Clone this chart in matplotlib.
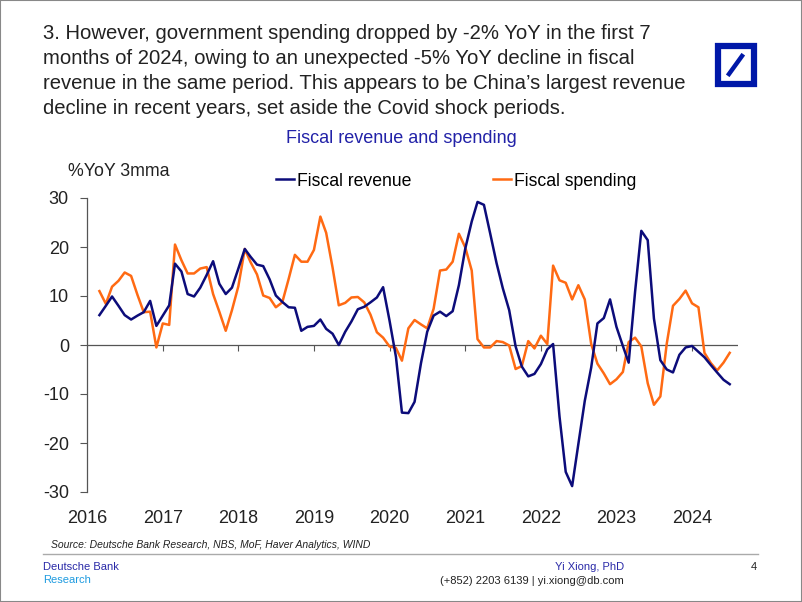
import pandas as pd
import matplotlib.pyplot as plt
import matplotlib.patches as mpatches
from matplotlib.lines import Line2D

# monthly, 3mma %YoY, Mar 2016 - Jul 2024
dates = pd.date_range('2016-03-01', '2024-07-01', freq='MS')

revenue = [6.1, 8.0, 9.9, 8.0, 6.1, 5.2, 6.0, 6.7, 9.0, 3.9,
           6.0, 8.1, 16.6, 15.0, 10.4, 9.9, 11.7, 14.3, 17.1, 12.5,
           10.4, 11.7, 15.6, 19.6, 18.0, 16.4, 16.1, 13.4, 10.1, 8.8,
           7.7, 7.6, 2.9, 3.7, 3.9, 5.2, 3.3, 2.3, 0.0, 2.7,
           4.8, 7.3, 7.8, 8.7, 9.7, 11.8, 5.0, -2.4, -13.8, -13.9,
           -11.6, -3.7, 2.7, 6.0, 6.8, 5.9, 6.9, 12.2, 19.7, 25.2,
           29.2, 28.6, 22.8, 16.7, 11.6, 7.1, -0.3, -4.4, -6.4, -5.9,
           -3.9, -0.9, 0.2, -14.6, -25.9, -28.8, -20.2, -11.4, -4.6, 4.4,
           5.5, 9.3, 3.7, -0.2, -3.6, 10.9, 23.3, 21.4, 5.4, -3.1,
           -5.0, -5.6, -2.0, -0.5, -0.2, -1.4, -2.5, -4.1, -5.6, -7.1,
           -8.0]

spending = [11.0, 8.4, 11.9, 13.1, 14.8, 14.1, 10.2, 6.7, 6.8, -0.5,
            4.4, 4.1, 20.5, 17.3, 14.6, 14.6, 15.6, 15.9, 10.4, 6.8,
            2.9, 7.1, 12.0, 19.6, 16.9, 14.4, 10.1, 9.6, 7.7, 8.7,
            13.5, 18.4, 17.0, 17.0, 19.4, 26.2, 22.9, 15.8, 8.1, 8.6,
            9.7, 9.8, 8.7, 6.2, 2.6, 1.5, -0.3, -0.6, -3.2, 3.4,
            5.1, 4.2, 3.4, 7.4, 15.2, 15.4, 17.0, 22.7, 19.9, 15.2,
            1.2, -0.5, -0.5, 0.8, 0.6, -0.1, -4.9, -4.3, 0.8, -0.7,
            1.9, 0.2, 16.2, 13.2, 12.7, 9.3, 12.2, 9.3, 0.2, -3.8,
            -5.8, -8.0, -7.0, -5.5, 0.6, 1.5, -0.3, -7.8, -12.2, -10.5,
            0.3, 8.0, 9.4, 11.1, 8.5, 7.7, -1.6, -3.7, -5.2, -3.6,
            -1.6]

years = list(range(2016, 2025))
yticks = [-30, -20, -10, 0, 10, 20, 30]

title = ("3. However, government spending dropped by -2% YoY in the first 7\n"
         "months of 2024, owing to an unexpected -5% YoY decline in fiscal\n"
         "revenue in the same period. This appears to be China\u2019s largest revenue\n"
         "decline in recent years, set aside the Covid shock periods.")

NAVY = '#0c0c7a'
ORANGE = '#ff6a13'
DBBLUE = '#0018a8'
TXT = '#222222'
AXC = '#555555'
BODY = 'Liberation Sans'
plt.rcParams['font.family'] = [BODY, 'DejaVu Sans']

fig = plt.figure(figsize=(8.02, 6.02), dpi=100)
fig.patches.append(mpatches.Rectangle((0, 0), 1, 1, transform=fig.transFigure,
                                      fill=False, edgecolor='#888888', linewidth=1.5))

# header
fig.text(43 / 802, 1 - 24 / 602, title, ha='left', va='top', fontsize=14.6,
         color=TXT, linespacing=1.40)

# logo
fig.patches.append(mpatches.Rectangle((718 / 802, 1 - 84 / 602), 36 / 802, 38 / 602,
                                      transform=fig.transFigure, fill=False,
                                      edgecolor=DBBLUE, linewidth=4.5))
fig.lines.append(Line2D([729 / 802, 742 / 802], [1 - 74 / 602, 1 - 56 / 602],
                        transform=fig.transFigure, color=DBBLUE, linewidth=3.2))

fig.text(401 / 802, 1 - 138 / 602, 'Fiscal revenue and spending', ha='center',
         va='center', fontsize=13, color='#2222a8')

ax = fig.add_axes([87 / 802, 1 - 492 / 602, (738 - 87) / 802, (492 - 198) / 602])
ax.axhline(0, color=AXC, linewidth=0.9, zorder=1)
ax.plot(dates, revenue, color=NAVY, linewidth=1.8, label='Fiscal revenue', zorder=3)
ax.plot(dates, spending, color=ORANGE, linewidth=1.8, label='Fiscal spending', zorder=2)

ax.set_ylim(-30, 30)
ax.set_xlim(pd.Timestamp('2016-01-01'), pd.Timestamp('2024-08-10'))
ax.set_yticks(yticks)
ax.set_yticklabels([str(v) for v in yticks])
ax.tick_params(axis='y', direction='out', length=5, width=0.8, color=AXC,
               labelsize=13, labelcolor=TXT, pad=8)

year_pos = [pd.Timestamp(f'{y}-01-01') for y in years]
ax.set_xticks(year_pos[1:])
ax.tick_params(axis='x', direction='out', length=4, width=0.8, color=AXC,
               labelbottom=False)

for s in ['top', 'right', 'bottom']:
    ax.spines[s].set_visible(False)
ax.spines['left'].set_color(AXC)
ax.spines['left'].set_linewidth(0.9)
ax.spines['bottom'].set_position(('data', 0))

# year labels below the plot
lab = ax.secondary_xaxis('bottom')
lab.set_xticks(year_pos)
lab.set_xticklabels([str(y) for y in years])
lab.tick_params(axis='x', length=0, labelsize=13, labelcolor=TXT, pad=13)
lab.spines['bottom'].set_visible(False)

ax.text((68 - 87) / (738 - 87), 1.09, '%YoY 3mma', transform=ax.transAxes,
        ha='left', va='center', fontsize=12.8, color=TXT)

handles, labels = ax.get_legend_handles_labels()
fig.legend(handles, labels, loc='center', bbox_to_anchor=(456 / 802, 1 - 181 / 602),
           ncol=2, frameon=False, handlelength=1.05, handletextpad=0.15,
           columnspacing=4.6, prop={'family': BODY, 'size': 12.7})

# footer
fig.text(51 / 802, 1 - 545 / 602,
         'Source: Deutsche Bank Research, NBS, MoF, Haver Analytics, WIND',
         ha='left', va='center', fontsize=7.5, style='italic', color=TXT)
fig.lines.append(Line2D([43 / 802, 758 / 802], [1 - 554 / 602, 1 - 554 / 602],
                        transform=fig.transFigure, color='#aaaaaa', linewidth=1))
fig.text(43 / 802, 1 - 567 / 602, 'Deutsche Bank', ha='left', va='center',
         fontsize=8, color='#2a2aa8')
fig.text(43 / 802, 1 - 580 / 602, 'Research', ha='left', va='center',
         fontsize=8, color='#1e9be0')
fig.text(624 / 802, 1 - 567 / 602, 'Yi Xiong, PhD', ha='right', va='center',
         fontsize=8, color='#2a2aa8')
fig.text(624 / 802, 1 - 581 / 602, '(+852) 2203 6139 | yi.xiong@db.com', ha='right',
         va='center', fontsize=8, color=TXT)
fig.text(757 / 802, 1 - 567 / 602, '4', ha='right', va='center', fontsize=8,
         color=TXT)

fig.savefig('out.png', dpi=100)
